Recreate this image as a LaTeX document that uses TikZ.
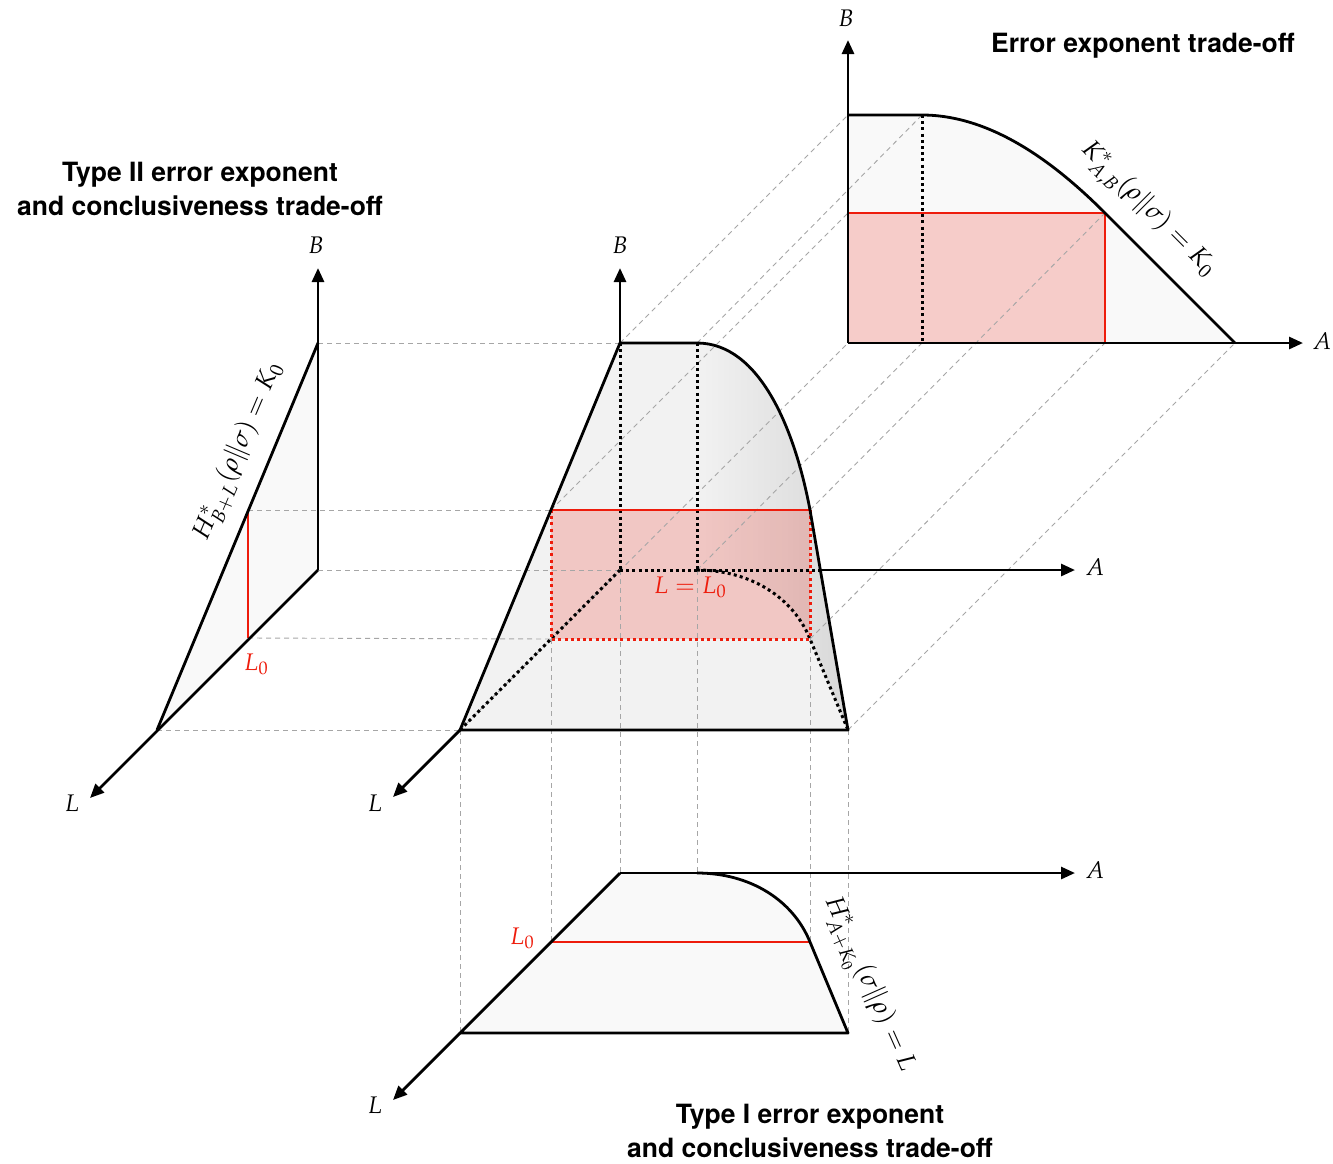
\documentclass[tikz,border=0pt]{standalone}
\usepackage{mathpazo}
\usepackage[no-math]{fontspec}
\newfontfamily\titlefont{TeX Gyre Heros}
\usetikzlibrary{arrows.meta}
\definecolor{myred}{RGB}{238,28,12}
\definecolor{fillA}{RGB}{249,249,249}
\definecolor{fillB}{RGB}{242,242,242}
\definecolor{fillC}{RGB}{216,216,216}
\tikzset{
 guide/.style={gray!70, line width=0.9pt, dash pattern=on 5pt off 4pt},
 edge/.style={black, line width=2.8pt, line join=round},
 axis/.style={black, line width=2.8pt, -{Triangle[length=14pt,width=12pt]}},
 hidden/.style={black, line width=3pt, dash pattern=on 3pt off 3.2pt},
 redhidden/.style={myred, line width=3pt, dash pattern=on 3pt off 3.2pt},
 redline/.style={myred, line width=2.9pt},
 lbl/.style={font=\fontsize{24}{28}\selectfont, inner sep=0pt},
 curvelbl/.style={font=\fontsize{25.5}{30}\selectfont, inner sep=0pt},
 redlbl/.style={lbl, text=myred},
 title/.style={font=\titlefont\bfseries\fontsize{26.5}{34}\selectfont, align=center, inner sep=0pt},
}
\begin{document}
\begin{tikzpicture}[x=1pt,y=-1pt]
\useasboundingbox (0,0) rectangle (1333,1163);
% main figure
\coordinate (O) at (620,570);
\coordinate (Btop) at (620,343);
\coordinate (P1) at (697,343);
\coordinate (Q1) at (810,510);
\coordinate (R1) at (848,730);
\coordinate (Lm) at (460,730);
\coordinate (Pb) at (697,570);
\coordinate (Qb) at (810,639);
\coordinate (L0m) at (551,639);
\coordinate (L0t) at (551,510);
\coordinate (Aon) at (820,570);
\coordinate (mBend) at (620,268);
\coordinate (mAend) at (1075,570);
\coordinate (mLend) at (393,797);
% top projection
\coordinate (TO) at (848,343);
\coordinate (TB) at (848,115);
\coordinate (TP) at (922,115);
\coordinate (TQ) at (1105,213);
\coordinate (TR) at (1235,343);
\coordinate (TL0) at (848,213);
\coordinate (TQb) at (1105,343);
\coordinate (TPb) at (922,343);
\coordinate (tBend) at (848,40);
\coordinate (tAend) at (1303,343);
% left projection
\coordinate (SO) at (318,570);
\coordinate (SB) at (318,343);
\coordinate (SL) at (157,730);
\coordinate (SL0b) at (248,638);
\coordinate (SL0t) at (248,510);
\coordinate (sBend) at (318,268);
\coordinate (sLend) at (90,798);
% bottom projection
\coordinate (BO) at (620,873);
\coordinate (BP) at (697,873);
\coordinate (BQ) at (810,942);
\coordinate (BR) at (848,1033);
\coordinate (BL) at (460,1033);
\coordinate (BL0) at (551,942);
\coordinate (bAend) at (1075,873);
\coordinate (bLend) at (393,1100);

% fills
\fill[fillA] (TO) -- (TB) -- (TP) .. controls (995,115) and (1060,168) .. (TQ) -- (TR) -- cycle;
\fill[myred, opacity=0.2] (TO) rectangle (TQ);
\fill[fillA] (SB) -- (SO) -- (SL) -- cycle;
\fill[fillA] (BO) -- (BP) .. controls (750,873) and (793,900) .. (BQ) -- (BR) -- (BL) -- cycle;
\fill[fillB] (Lm) -- (Btop) -- (P1) .. controls (760,343) and (795,430) .. (Q1) -- (R1) -- cycle;
\shade[left color=fillB, right color=fillC] (P1) .. controls (760,343) and (795,430) .. (Q1) -- (R1) -- (Qb) .. controls (793,597) and (750,570) .. (Pb) -- cycle;
\fill[myred, opacity=0.2] (L0m) rectangle (Q1);

% guides
\draw[guide] (SB) -- (Btop);
\draw[guide] (SL0t) -- (L0t);
\draw[guide] (SO) -- (O);
\draw[guide] (SL0b) -- (L0m);
\draw[guide] (SL) -- (Lm);
\draw[guide] (Lm) -- (BL);
\draw[guide] (L0m) -- (BL0);
\draw[guide] (O) -- (BO);
\draw[guide] (Pb) -- (BP);
\draw[guide] (Qb) -- (BQ);
\draw[guide] (R1) -- (BR);
\draw[guide] (Lm) -- (TO);
\draw[guide] (Btop) -- (TB);
\draw[guide] (P1) -- (TP);
\draw[guide] (L0t) -- (TL0);
\draw[guide] (Pb) -- (TPb);
\draw[guide] (Q1) -- (TQ);
\draw[guide] (Qb) -- (TQb);
\draw[guide] (R1) -- (TR);

% hidden lines
\draw[hidden] (Btop) -- (O);
\draw[hidden] (P1) -- (Pb);
\draw[hidden] (O) -- (Aon);
\draw[hidden] (O) -- (Lm);
\draw[hidden] (Pb) .. controls (750,570) and (793,597) .. (Qb) -- (R1);
\draw[hidden] (TP) -- (TPb);
\draw[redhidden] (L0t) -- (L0m) -- (Qb) -- (Q1);

% red lines
\draw[redline] (L0t) -- (Q1);
\draw[redline] (TL0) -- (TQ) -- (TQb);
\draw[redline] (SL0t) -- (SL0b);
\draw[redline] (BL0) -- (BQ);

% edges
\draw[edge] (Lm) -- (Btop) -- (P1) .. controls (760,343) and (795,430) .. (Q1) -- (R1) -- cycle;
\draw[edge] (TB) -- (TP) .. controls (995,115) and (1060,168) .. (TQ) -- (TR);
\draw[edge] (SB) -- (SL);
\draw[edge] (BP) .. controls (750,873) and (793,900) .. (BQ) -- (BR) -- (BL) -- (BO);

% axes
\draw[axis] (Btop) -- (mBend);
\draw[axis] (Aon) -- (mAend);
\draw[axis] (Lm) -- (mLend);
\draw[axis] (TO) -- (tBend);
\draw[axis] (TO) -- (tAend);
\draw[axis] (SO) -- (sBend);
\draw[axis] (SO) -- (sLend);
\draw[axis] (BO) -- (bAend);
\draw[axis] (BL) -- (bLend);

% axis labels
\node[lbl] (lmB) at (620,245) {$B$};
\node[lbl] (lmA) at (1095,567) {$A$};
\node[lbl] (lmL) at (375,803) {$L$};
\node[lbl] (ltB) at (846,18) {$B$};
\node[lbl] (ltA) at (1322,341) {$A$};
\node[lbl] (lsB) at (316,245) {$B$};
\node[lbl] (lsL) at (72,803) {$L$};
\node[lbl] (lbA) at (1095,870) {$A$};
\node[lbl] (lbL) at (375,1105) {$L$};

% red labels
\node[redlbl] (rl1) at (256,664) {$L_0$};
\node[redlbl] (rl2) at (522,938) {$L_0$};
\node[redlbl] (rl3) at (690,587) {$L = L_0$};

% curve labels
\node[curvelbl, rotate=67] (hl) at (239,452) {$H^{*}_{B+L}(\rho\|\sigma) = K_0$};
\node[curvelbl, rotate=-45] (kl) at (1147,210) {$K^{*}_{A,B}(\rho\|\sigma) = K_0$};
\node[curvelbl, rotate=-66] (hb) at (867,985) {$H^{*}_{A+K_0}(\sigma\|\rho) = L$};

% titles
\node[title] (t1) at (1143,46) {Error exponent trade-off};
\node[title] (t2) at (200,189) {Type II error exponent\\and conclusiveness trade-off};
\node[title] (t3) at (810,1131) {Type I error exponent\\and conclusiveness trade-off};
\end{tikzpicture}
\end{document}
